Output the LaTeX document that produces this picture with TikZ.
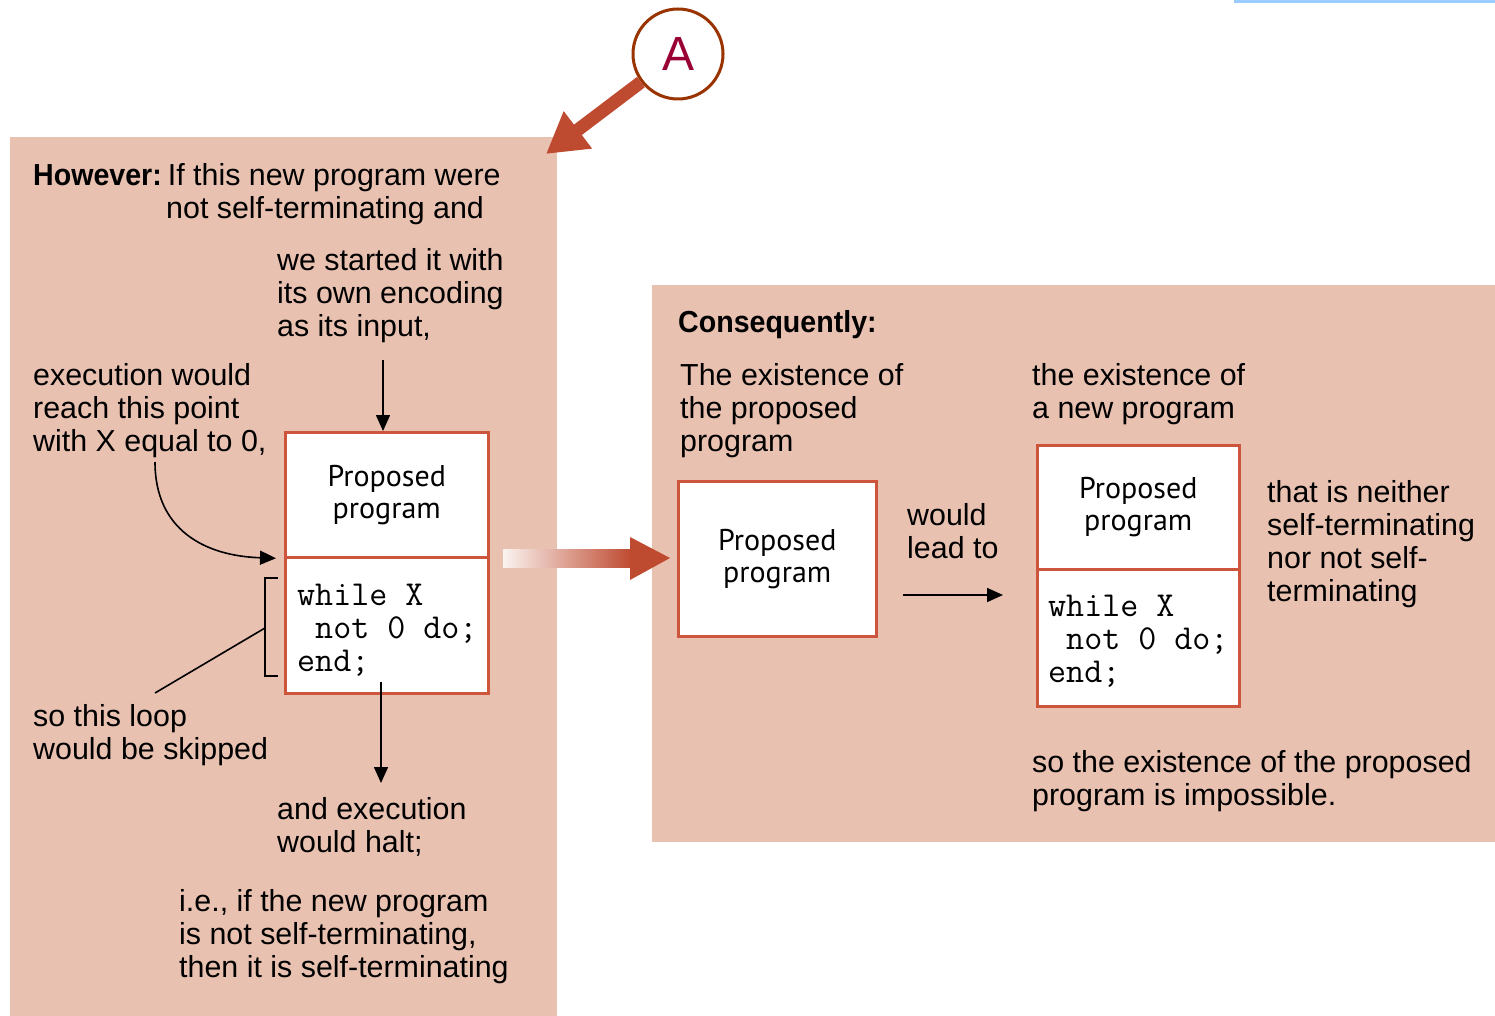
\documentclass[tikz,border=0pt]{standalone}
\usepackage{graphicx}
\usepackage{fontspec}
\setmainfont{Liberation Sans}
\newfontfamily\progfont{PT Sans}
\usetikzlibrary{arrows.meta}
\definecolor{panel}{RGB}{233,193,177}
\definecolor{boxred}{RGB}{205,85,60}
\definecolor{arrowred}{RGB}{190,74,48}
\definecolor{ringbrown}{RGB}{153,51,0}
\definecolor{letterred}{RGB}{153,0,51}
\definecolor{topblue}{RGB}{153,204,255}
\newcommand{\headword}[1]{\scalebox{0.94}[1]{\textbf{#1}}}
\begin{document}
\begin{tikzpicture}[x=1pt,y=-1pt,
  txt/.style={anchor=north west, inner sep=0pt, align=left,
    font=\fontsize{30.4}{33}\selectfont},
  partbox/.style={draw=boxred, line width=2.5pt, fill=white, inner sep=0pt,
    minimum width=203pt, align=center,
    font=\progfont\fontsize{30}{32}\selectfont},
  code/.style={anchor=west, inner sep=0pt, align=left,
    font=\ttfamily\fontsize{35}{33}\selectfont},
  arr/.style={line width=1.6pt, -{Triangle[length=16pt,width=14pt]}},
  thin/.style={line width=1.6pt},
  bigarr/.style={draw=arrowred, line width=13pt,
    -{Triangle[length=40pt,width=44pt]}}
]
\useasboundingbox (0,0) rectangle (1495,1016);

% background panels
\fill[panel] (10,137) rectangle (557,1016);
\fill[panel] (652,285) rectangle (1495,842);
\fill[topblue] (1234,0) rectangle (1495,3);

% marker A with its arrow
\node[circle, draw=ringbrown, line width=3pt, fill=white, minimum size=90pt,
  inner sep=0pt, text=letterred, font=\fontsize{48}{48}\selectfont] (A) at (678,54) {A};
\coordinate (Atip) at (546,154);
\draw[bigarr] (A) -- (Atip);

% left panel texts
\node[txt] (however) at (33,163) {\headword{However:}\hspace{6pt}If this new program were\\
  \hspace*{133pt}not self-terminating and};
\node[txt] (started) at (277,248) {we started it with\\its own encoding\\as its input,};
\node[txt] (exec) at (33,363) {execution would\\reach this point\\with X equal to 0,};
\node[txt] (loop) at (33,704) {so this loop\\would be skipped};
\node[txt] (halt) at (277,797) {and execution\\would halt;};
\node[txt] (ie) at (179,889) {i.e., if the new program\\is not self-terminating,\\then it is self-terminating};

% left program box
\node[partbox, minimum height=125pt, anchor=north west] (b1top) at (284,431) {Proposed\\program};
\node[partbox, minimum height=136pt, anchor=north west] (b1bot) at (284,556) {};
\node[code] (c1) at (297,630) {while X\\\hphantom{n}not 0 do;\\end;};

% left connectors
\coordinate (s1) at (383,360);
\draw[arr] (s1) -- (b1top.north -| s1);
\coordinate (e1) at (155,462);
\draw[arr, shorten >=8pt] (e1) .. controls (155,530) and (205,556) .. (b1top.south west);
\coordinate (br1) at (265,628);
\draw[thin] (278,578) -- (265,578) -- (265,676) -- (278,676);
\coordinate (l1) at (155,693);
\draw[thin] (l1) -- (br1);
\coordinate (h0) at (381,682);
\coordinate (h1) at (381,783);
\draw[arr] (h0) -- (h1);

% gradient arrow between the panels
\shade[left color=panel!20!white, right color=arrowred] (503,549) rectangle (632,567);
\fill[arrowred] (630,537) -- (670,558) -- (630,580) -- cycle;

% right panel texts
\node[txt] (conseq) at (678,310) {\headword{Consequently:}};
\node[txt] (exist1) at (680,363) {The existence of\\the proposed\\program};
\node[txt] (exist2) at (1032,363) {the existence of\\a new program};
\node[txt] (would) at (907,503) {would\\lead to};
\node[txt] (neither) at (1267,480) {that is neither\\self-terminating\\nor not self-\\terminating};
\node[txt] (so) at (1032,750) {so the existence of the proposed\\program is impossible.};

% right program boxes
\node[partbox, minimum width=198pt, minimum height=155pt, anchor=north west] (b2) at (677,480) {Proposed\\program};
\node[partbox, minimum width=202pt, minimum height=124pt, anchor=north west] (b3top) at (1036,444) {Proposed\\program};
\node[partbox, minimum width=202pt, minimum height=137pt, anchor=north west] (b3bot) at (1036,568) {};
\node[code] (c3) at (1048,641) {while X\\\hphantom{n}not 0 do;\\end;};

\coordinate (w0) at (903,595);
\coordinate (w1) at (1003,595);
\draw[arr] (w0) -- (w1);
\end{tikzpicture}
\end{document}
